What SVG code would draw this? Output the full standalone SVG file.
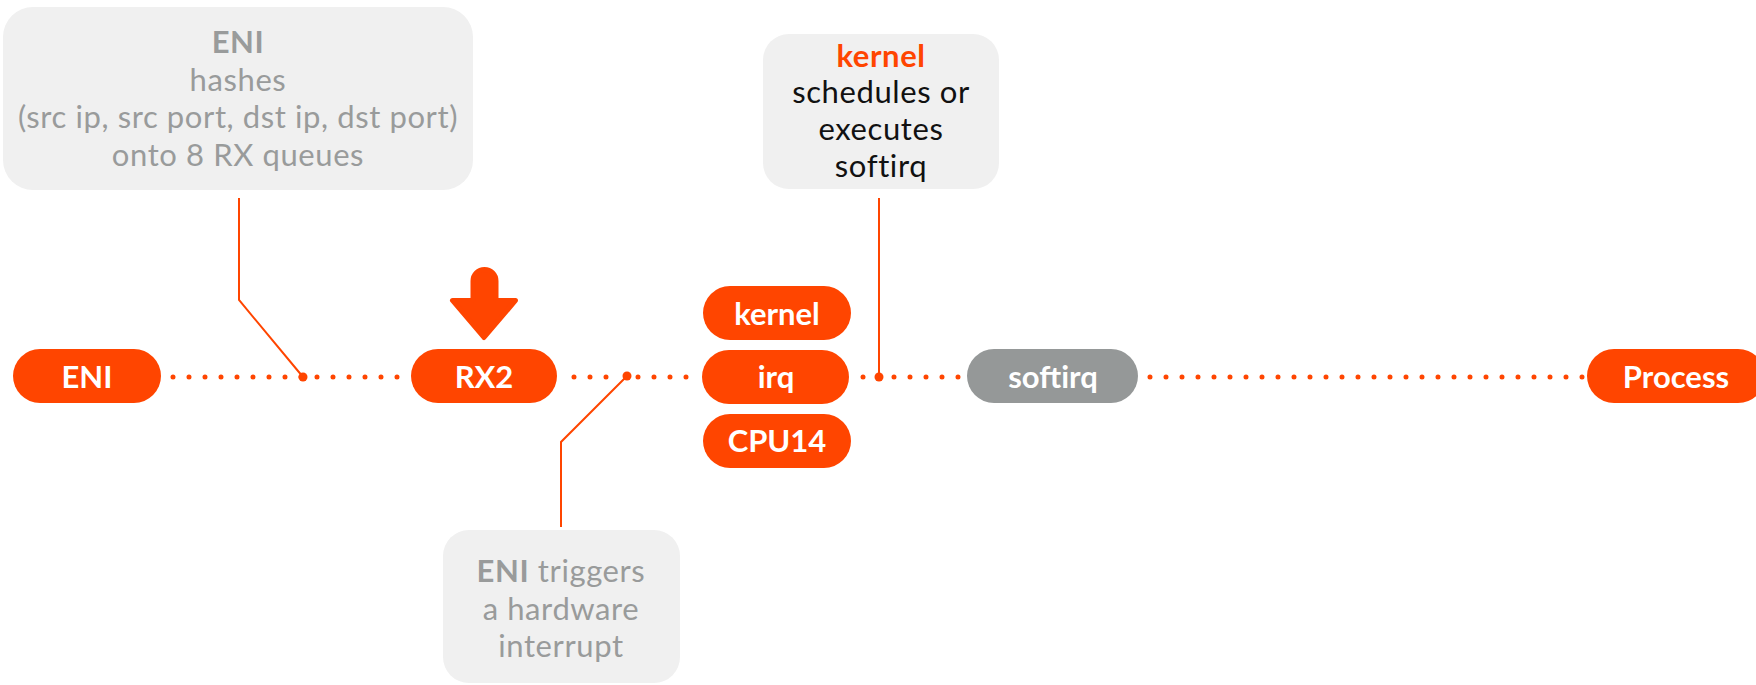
<svg xmlns="http://www.w3.org/2000/svg" width="1756" height="685" viewBox="0 0 1756 685">
<style>
.pill{fill:#ff4500}
.pill-grey{fill:#959898}
.ptxt{font-family:Lato,"Noto Sans",sans-serif;font-weight:700;font-size:31px;fill:#ffffff;text-anchor:middle}
.box{fill:#f0f0f0}
.gtxt{font-family:Lato,"Noto Sans",sans-serif;font-size:31px;letter-spacing:0.6px;fill:#999b9b;text-anchor:middle}
.btxt{font-family:Lato,"Noto Sans",sans-serif;font-size:31px;letter-spacing:0.6px;fill:#111111;text-anchor:middle}
.b{font-weight:700}
.dots{stroke:#ff4500;stroke-width:5;stroke-linecap:round;stroke-dasharray:0 16;fill:none}
.lead{stroke:#ff4500;stroke-width:2;fill:none}
.jn{fill:#ff4500}
</style>
<g id="connectors">
  <path class="dots" d="M173 377 H398"/>
  <path class="dots" d="M574 377 H607"/>
  <path class="dots" d="M638 377 H687"/>
  <path class="dots" d="M863 377 H864"/>
  <path class="dots" d="M894 377 H959"/>
  <path class="dots" d="M1150 377 H1583"/>
  <path class="lead" d="M239 198 V300 L303 377"/>
  <path class="lead" d="M627 376 L561 442 V527"/>
  <path class="lead" d="M879 198 V377"/>
  <circle class="jn" cx="303" cy="377" r="4.5"/>
  <circle class="jn" cx="627" cy="376" r="4.5"/>
  <circle class="jn" cx="879" cy="377" r="4.5"/>
</g>
<g id="note-hash">
  <rect class="box" x="3" y="7" width="470" height="183" rx="30"/>
  <text class="gtxt b" x="238" y="53">ENI</text>
  <text class="gtxt" x="238" y="91">hashes</text>
  <text class="gtxt" x="238" y="128">(src ip, src port, dst ip, dst port)</text>
  <text class="gtxt" x="238" y="166">onto 8 RX queues</text>
</g>
<g id="note-kernel">
  <rect class="box" x="763" y="34" width="236" height="155" rx="26"/>
  <text class="btxt b" x="881" y="67" style="fill:#ff4500">kernel</text>
  <text class="btxt" x="881" y="103">schedules or</text>
  <text class="btxt" x="881" y="140">executes</text>
  <text class="btxt" x="881" y="177">softirq</text>
</g>
<g id="note-irq">
  <rect class="box" x="443" y="530" width="237" height="153" rx="26"/>
  <text class="gtxt" x="561" y="582"><tspan class="b">ENI</tspan> triggers</text>
  <text class="gtxt" x="561" y="620">a hardware</text>
  <text class="gtxt" x="561" y="657">interrupt</text>
</g>
<g id="node-eni">
  <rect class="pill" x="13" y="349" width="148" height="54" rx="27"/>
  <text class="ptxt" x="87" y="388">ENI</text>
</g>
<g id="node-rx2">
  <rect class="pill" x="411" y="349" width="146" height="54" rx="27"/>
  <text class="ptxt" x="484" y="388">RX2</text>
  <path class="pill" d="M473 281 A11.5 11.5 0 0 1 496 281 V300.5 H515.5 L484 337.5 L452.5 300.5 H473 Z" stroke="#ff4500" stroke-width="5" stroke-linejoin="round"/>
</g>
<g id="node-kernel">
  <rect class="pill" x="703" y="286" width="148" height="54" rx="27"/>
  <text class="ptxt" x="777" y="325">kernel</text>
</g>
<g id="node-irq">
  <rect class="pill" x="702" y="350" width="147" height="54" rx="27"/>
  <text class="ptxt" x="776" y="388">irq</text>
</g>
<g id="node-cpu14">
  <rect class="pill" x="703" y="414" width="148" height="54" rx="27"/>
  <text class="ptxt" x="777" y="452">CPU14</text>
</g>
<g id="node-softirq">
  <rect class="pill-grey" x="967" y="349" width="171" height="54" rx="27"/>
  <text class="ptxt" x="1053" y="388">softirq</text>
</g>
<g id="node-process">
  <rect class="pill" x="1587" y="349" width="178" height="54" rx="27"/>
  <text class="ptxt" x="1676" y="388">Process</text>
</g>
</svg>
